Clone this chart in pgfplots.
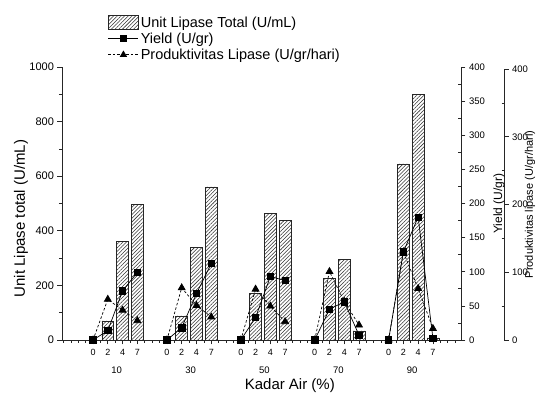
\documentclass[border=0pt]{standalone}
\usepackage{fontspec}
\setmainfont{Liberation Sans}
\usepackage{pgfplots}
\usepackage{pgfplotstable}
\pgfplotsset{compat=1.18}
\usetikzlibrary{patterns,patterns.meta}

\pgfplotstableread{
x y
1 70
2 360
3 498
6 88
7 339
8 561
11 172
12 465
13 438
16 225
17 295
18 33
21 645
22 900
23 8
}\bars

\pgfplotstableread{
x y
0 0
1 13.7
2 72
3 99
4 nan
5 0
6 18
7 68
8 112
9 nan
10 0
11 33
12 93
13 87
14 nan
15 0
16 45
17 56
18 7
19 nan
20 0
21 129
22 180
23 2.5
}\yieldtab

\pgfplotstableread{
x y
0 0
1 60
2 44
3 28.5
4 nan
5 0
6 77
7 51
8 34
9 nan
10 0
11 75
12 50
13 27
14 nan
15 0
16 101
17 57
18 22
19 nan
20 0
21 130
22 76
23 17
}\prodtab

\pgfplotsset{
  common/.style={
    scale only axis,
    /pgf/number format/assume math mode=true,
    /pgf/number format/1000 sep={},
    tick align=outside,
    major tick length=4.5pt, minor tick length=3pt,
    tick style={line width=0.7pt, black!85},
    axis line style={line width=0.8pt, black!85},
    clip=false,
  },
  boxlegend/.style={legend image code/.code={\draw[##1] (0pt,-7pt) rectangle (30pt,7pt);}},
  linelegend/.style={legend image code/.code={\draw[##1, mark repeat=2, mark phase=2] plot coordinates {(0pt,0pt) (15pt,0pt) (30pt,0pt)};}},
}

\begin{document}
\begin{tikzpicture}[x=1pt,y=1pt]
\useasboundingbox (-62,-58) rectangle (480,340);

% main axis: bars
\begin{axis}[common,
  at={(0,0)}, anchor=south west,
  width=399pt, height=273pt,
  xmin=-2.1, xmax=24.9, ymin=0, ymax=1000,
  axis x line*=bottom, axis y line*=left,
  xtick={0,1,2,3,5,6,7,8,10,11,12,13,15,16,17,18,20,21,22,23},
  xticklabels={0,2,4,7,0,2,4,7,0,2,4,7,0,2,4,7,0,2,4,7},
  minor xtick={-2,-1.5,...,24.5},
  ytick={0,200,...,1000},
  minor ytick={100,300,...,900},
  xticklabel style={font=\fontsize{9}{10}\selectfont, yshift=-1.5pt},
  yticklabel style={font=\fontsize{11}{12}\selectfont},
  xlabel={Kadar Air (\%)},
  xlabel style={at={(axis description cs:0.571,0)}, anchor=center, yshift=-46pt, font=\fontsize{15}{17}\selectfont},
  ylabel={Unit Lipase total (U/mL)},
  ylabel style={at={(axis description cs:0,0.445)}, anchor=center, yshift=41pt, font=\fontsize{15}{17}\selectfont},
  legend style={at={(axis description cs:0.115,1.192)}, anchor=north west, draw=none, fill=none,
    font=\fontsize{14.5}{16}\selectfont, row sep=0pt, inner sep=0pt},
  legend cell align=left,
]
\addplot[ybar, bar width=11.8pt, draw=black!85, line width=0.6pt,
  pattern={Lines[angle=45, distance=2.6pt, line width=0.55pt]}, pattern color=black!80, boxlegend]
  table {\bars};
\addlegendentry{Unit Lipase Total (U/mL)}
\addlegendimage{black, line width=0.7pt, mark=square*, mark size=3pt, linelegend}
\addlegendentry{Yield (U/gr)}
\addlegendimage{black, line width=0.7pt, dash pattern=on 2.5pt off 2pt, mark=triangle*, mark size=3.6pt,
  mark options={solid}, linelegend}
\addlegendentry{Produktivitas Lipase (U/gr/hari)}
\node[font=\fontsize{9.5}{11}\selectfont] at (axis cs:1.6,0) [yshift=-30pt] {10};
\node[font=\fontsize{9.5}{11}\selectfont] at (axis cs:6.6,0) [yshift=-30pt] {30};
\node[font=\fontsize{9.5}{11}\selectfont] at (axis cs:11.6,0) [yshift=-30pt] {50};
\node[font=\fontsize{9.5}{11}\selectfont] at (axis cs:16.6,0) [yshift=-30pt] {70};
\node[font=\fontsize{9.5}{11}\selectfont] at (axis cs:21.6,0) [yshift=-30pt] {90};
\end{axis}

% productivity axis (third axis)
\begin{axis}[common,
  at={(0,0)}, anchor=south west,
  width=442pt, height=271pt,
  xmin=-2.1, xmax=27.81, ymin=0, ymax=400,
  axis x line=none, axis y line*=right,
  minor tick length=-2.5pt,
  ytick={0,100,...,400}, minor ytick={50,150,250,350},
  yticklabel style={font=\fontsize{9.5}{11}\selectfont},
  ylabel={Produktivitas lipase (U/gr/hari)},
  ylabel style={at={(axis description cs:1,0.5)}, anchor=center, yshift=-26pt, font=\fontsize{11}{13}\selectfont},
]
\addplot[black, line width=0.7pt, dash pattern=on 2.5pt off 2pt, mark=triangle*, mark size=4pt,
  mark options={solid}, unbounded coords=jump] table {\prodtab};
\end{axis}

% yield axis
\begin{axis}[common,
  at={(0,0)}, anchor=south west,
  width=399pt, height=273pt,
  xmin=-2.1, xmax=24.9, ymin=0, ymax=400,
  axis x line=none, axis y line*=right,
  minor tick length=-2.5pt,
  ytick={0,50,...,400}, minor ytick={25,75,...,375},
  yticklabel style={font=\fontsize{9.5}{11}\selectfont},
  ylabel={Yield (U/gr)},
  ylabel style={at={(axis description cs:1,0.5)}, anchor=center, yshift=-38pt, font=\fontsize{12}{14}\selectfont},
]
\addplot[black, line width=0.7pt, mark=square*, mark size=3.2pt, unbounded coords=jump] table {\yieldtab};
\end{axis}
\end{tikzpicture}
\end{document}
